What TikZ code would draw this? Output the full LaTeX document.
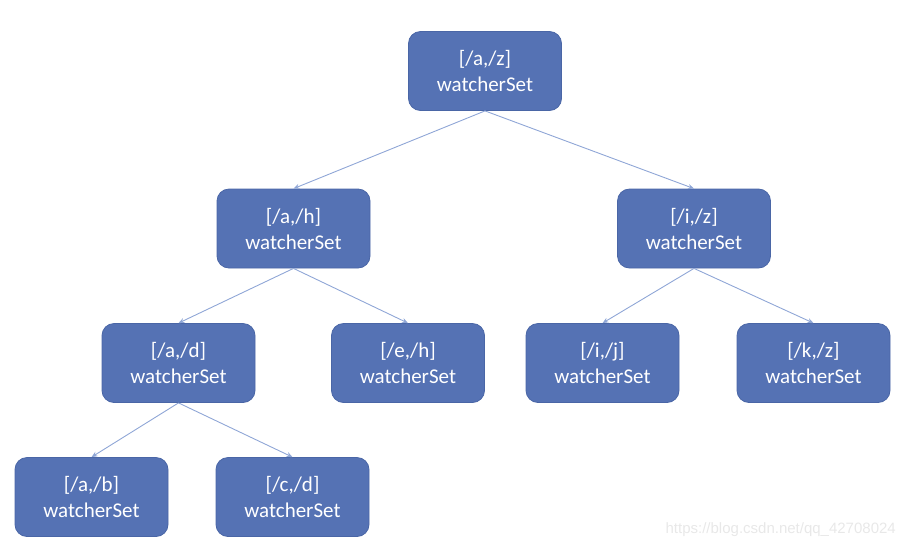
\documentclass[tikz,border=0pt]{standalone}
\usepackage{fontspec}
\setmainfont{Carlito}
\newfontfamily\wmfont{Liberation Sans}
\usetikzlibrary{arrows.meta}
\definecolor{boxfill}{HTML}{5572B4}
\definecolor{boxline}{HTML}{4A66A6}
\definecolor{edgecol}{HTML}{8FA6D6}
\definecolor{wmcol}{HTML}{E8E8E8}
\begin{document}
\begin{tikzpicture}[x=1pt,y=-1pt,
  treebox/.style={draw=boxline,line width=0.8pt,fill=boxfill,rounded corners=12pt,
    minimum width=153pt,minimum height=79pt,text=white,align=center,
    font=\fontsize{21}{26}\selectfont,inner sep=0pt},
  edge/.style={draw=edgecol,line width=0.9pt,-{Stealth[length=6pt,width=5pt]}}]
\useasboundingbox (0,0) rectangle (908,550);
\node[treebox] (az) at (485,71) {[/a,/z]\\watcherSet};
\node[treebox] (ah) at (293.5,228.5) {[/a,/h]\\watcherSet};
\node[treebox] (iz) at (694,228.5) {[/i,/z]\\watcherSet};
\node[treebox] (ad) at (178.5,363) {[/a,/d]\\watcherSet};
\node[treebox] (eh) at (408,363) {[/e,/h]\\watcherSet};
\node[treebox] (ij) at (602.5,363) {[/i,/j]\\watcherSet};
\node[treebox] (kz) at (813.5,363) {[/k,/z]\\watcherSet};
\node[treebox] (ab) at (91.5,497) {[/a,/b]\\watcherSet};
\node[treebox] (cd) at (292.5,497) {[/c,/d]\\watcherSet};
\draw[edge] (az.south) -- (ah.north);
\draw[edge] (az.south) -- (iz.north);
\draw[edge] (ah.south) -- (ad.north);
\draw[edge] (ah.south) -- (eh.north);
\draw[edge] (iz.south) -- (ij.north);
\draw[edge] (iz.south) -- (kz.north);
\draw[edge] (ad.south) -- (ab.north);
\draw[edge] (ad.south) -- (cd.north);
\node[anchor=east,text=wmcol,font=\wmfont\fontsize{15}{17}\selectfont,inner sep=0pt] (wm) at (896,530) {https://blog.csdn.net/qq\_42708024};
\end{tikzpicture}
\end{document}
